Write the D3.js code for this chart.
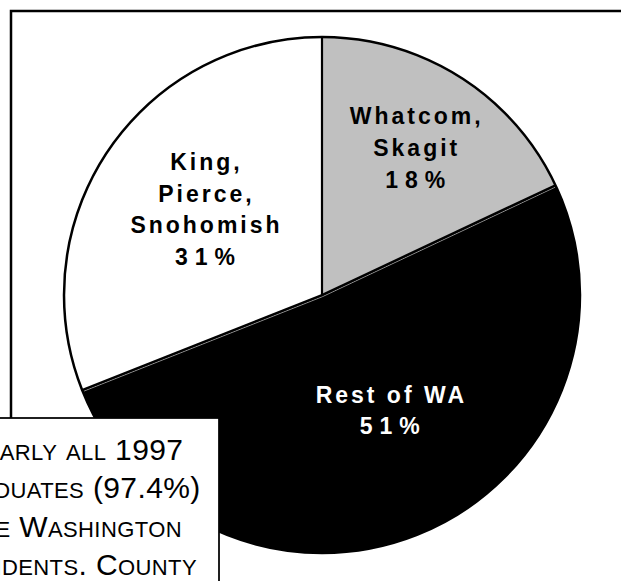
<!DOCTYPE html>
<html>
<head>
<meta charset="utf-8">
<script src="https://cdn.jsdelivr.net/npm/d3@7"></script>
<style>
  body { margin: 0; background: #fff; }
  svg { display: block; }
</style>
</head>
<body>
<svg width="621" height="581"></svg>
<script>
// chart values
var regions = ['Whatcom, Skagit', 'Rest of WA', 'King, Pierce, Snohomish'];
var shares = [18, 51, 31];
var labelLines = [['Whatcom,', 'Skagit'], ['Rest of WA'], ['King,', 'Pierce,', 'Snohomish']];
var noteLines = ['Nearly all 1997', 'graduates (97.4%)', 'are Washington', 'residents. County'];

var fills = ['#c0c0c0', '#000000', '#ffffff'];
var textFills = ['#000', '#fff', '#000'];
// where each label sits: distance from centre and a small turn off the slice middle
var labelRadius = [174, 134, 145];
var labelTurn = [0, -7, 2];

var width = 621, height = 581;
var cx = 322, cy = 295, radius = 258;
var lineGap = 31.7;
var svg, g, arcs;

document.addEventListener('DOMContentLoaded', function(){
    svg = d3.select('svg');
    svg.append('rect')
        .attr('x', 11)
        .attr('y', 11)
        .attr('width', 700)
        .attr('height', 700)
        .attr('fill', 'none')
        .attr('stroke', '#000')
        .attr('stroke-width', 2.5);

    g = svg.append('g').attr('transform', 'translate(' + cx + ',' + cy + ')');
    var pie = d3.pie().sort(null).value(d => d);
    arcs = pie(shares);
    plotPie();
    plotLabels();
    plotNote();
});

function plotPie(){
    var arc = d3.arc().innerRadius(0).outerRadius(radius);
    g.selectAll('.slice')
        .data(arcs)
        .join('path')
        .attr('class', 'slice')
        .attr('d', arc)
        .attr('fill', (d, i) => fills[i]);

    // faint light edge just inside the black slice
    var black = arcs[1];
    var edges = [
        {a: black.startAngle, side: 1},
        {a: black.endAngle, side: -1}
    ];
    g.selectAll('.glint')
        .data(edges)
        .join('line')
        .attr('class', 'glint')
        .attr('x1', d => d.side * Math.cos(d.a) * 1.7)
        .attr('y1', d => d.side * Math.sin(d.a) * 1.7)
        .attr('x2', d => Math.sin(d.a) * (radius - 1) + d.side * Math.cos(d.a) * 1.7)
        .attr('y2', d => -Math.cos(d.a) * (radius - 1) + d.side * Math.sin(d.a) * 1.7)
        .attr('stroke', '#cfcfcf')
        .attr('stroke-width', 0.7);

    g.selectAll('.spoke')
        .data(arcs)
        .join('line')
        .attr('class', 'spoke')
        .attr('x1', 0)
        .attr('y1', 0)
        .attr('x2', d => Math.sin(d.startAngle) * radius)
        .attr('y2', d => -Math.cos(d.startAngle) * radius)
        .attr('stroke', '#000')
        .attr('stroke-width', 2.2);

    g.append('circle')
        .attr('r', radius)
        .attr('fill', 'none')
        .attr('stroke', '#000')
        .attr('stroke-width', 2.5);
}

function plotLabels(){
    arcs.forEach(function(d, i){
        var mid = (d.startAngle + d.endAngle) / 2 + labelTurn[i] * Math.PI / 180;
        var lx = Math.sin(mid) * labelRadius[i];
        var ly = -Math.cos(mid) * labelRadius[i];
        var lines = labelLines[i].concat([shares[i] + '%']);
        var top = ly - (lines.length - 1) * lineGap / 2 + 8;
        g.append('text')
            .attr('class', 'label')
            .attr('text-anchor', 'middle')
            .attr('font-family', '"Liberation Sans", Arial, sans-serif')
            .attr('font-weight', 'bold')
            .attr('font-size', 23)
            .attr('fill', textFills[i])
            .selectAll('tspan')
            .data(lines)
            .join('tspan')
            .attr('x', (t, j) => lx + (j == lines.length - 1 ? 3.5 : 1.5))
            .attr('y', (t, j) => top + j * lineGap)
            .attr('letter-spacing', (t, j) => j == lines.length - 1 ? 7 : 3)
            .text(t => t);
    });
}

function plotNote(){
    var note = svg.append('g').attr('class', 'note');
    note.append('rect')
        .attr('x', -80)
        .attr('y', 418)
        .attr('width', 299)
        .attr('height', 220)
        .attr('fill', '#fff')
        .attr('stroke', '#000')
        .attr('stroke-width', 1.75);

    var txt = note.append('text')
        .attr('text-anchor', 'middle')
        .attr('font-family', '"Liberation Sans", Arial, sans-serif')
        .attr('letter-spacing', 0.4)
        .attr('fill', '#000');

    noteLines.forEach(function(line, i){
        // lowercase letters become small capitals, the rest stays full size
        var runs = line.match(/[a-z]+|[^a-z]+/g);
        var row = txt.append('tspan')
            .attr('x', 73)
            .attr('y', 460 + i * 38.3);
        runs.forEach(function(r){
            var small = /^[a-z]/.test(r);
            row.append('tspan')
                .attr('font-size', small ? 22 : 30)
                .text(small ? r.toUpperCase() : r);
        });
    });
}
</script>
</body>
</html>
